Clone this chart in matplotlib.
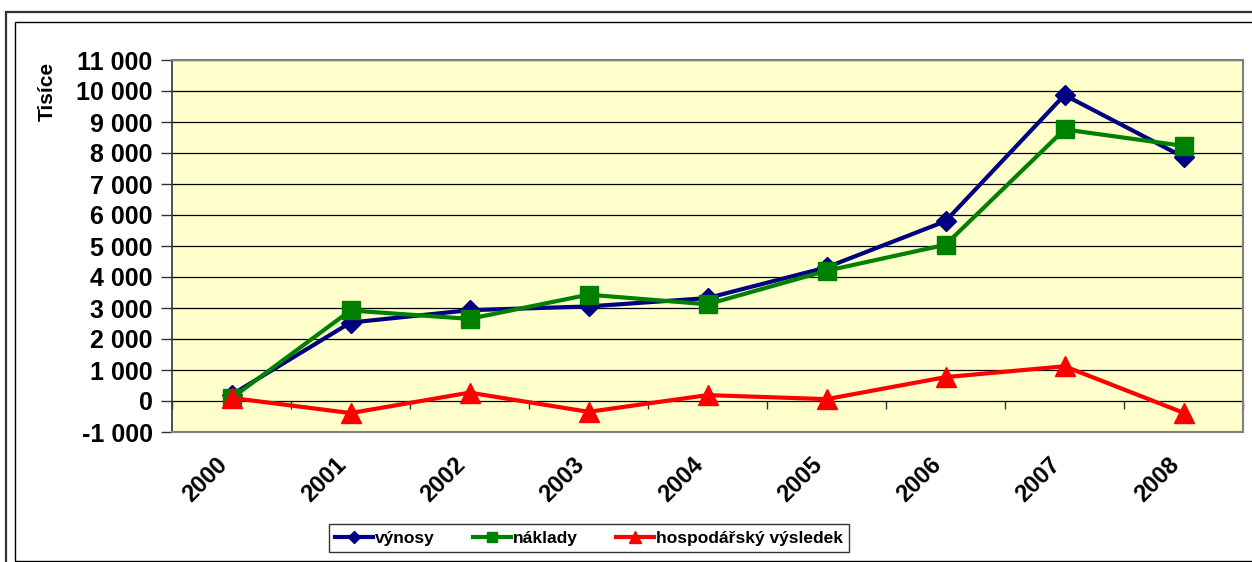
import numpy as np
import matplotlib
matplotlib.use('Agg')
from matplotlib import pyplot as plt
from matplotlib.patches import Rectangle

plt.rcParams['font.family'] = ['Liberation Sans', 'DejaVu Sans']
plt.rcParams['font.weight'] = 'bold'

# data, in thousands CZK
roky = ['2000', '2001', '2002', '2003', '2004', '2005', '2006', '2007', '2008']
vynosy = [200, 2530, 2930, 3050, 3320, 4310, 5800, 9870, 7870]
naklady = [90, 2920, 2650, 3430, 3120, 4200, 5040, 8760, 8230]
hv = [100, -390, 270, -350, 190, 60, 770, 1120, -380]

W, H = 1252, 562
fig = plt.figure(figsize=(W / 100, H / 100), dpi=100)
fig.patch.set_facecolor('white')


def px(x, y):
    return x / W, 1 - y / H


# outer double frame of the chart area
fig.patches.append(Rectangle(px(6, 575), 1300 / W, (575 - 12) / H, transform=fig.transFigure,
                             fill=False, ec='#333333', lw=1.6))
fig.patches.append(Rectangle(px(15, 561), 1300 / W, (561 - 22) / H, transform=fig.transFigure,
                             fill=False, ec='black', lw=1.0))

x0, y0 = px(172, 432)
x1, y1 = px(1243, 60)
ax = fig.add_axes([x0, y0, x1 - x0, y1 - y0])
ax.set_facecolor('#FFFFCC')

x = np.arange(len(roky))
ax.plot(x, vynosy, color='#000080', lw=3, marker='D', ms=10, mec='#000080', label='výnosy', zorder=3)
ax.plot(x, naklady, color='#008000', lw=3, marker='s', ms=13, mec='#008000', label='náklady', zorder=4)
ax.plot(x, hv, color='#FF0000', lw=3, marker='^', ms=14, mec='#FF0000', label='hospodářský výsledek', zorder=5)

ax.set_xlim(-0.5, len(roky) - 0.5)
ax.set_ylim(-1000, 11000)
yt = np.arange(-1000, 11001, 1000)
ax.set_yticks(yt)
ax.set_yticklabels([f"{v:,}".replace(',', ' ') for v in yt], fontsize=18, fontweight='bold')
ax.yaxis.grid(True, color='black', lw=0.9)
ax.set_axisbelow(True)
ax.tick_params(axis='y', direction='out', length=8, width=1, color='#333333', pad=6)

ax.set_xticks(x)
ax.set_xticklabels(roky, rotation=45, ha='right', va='top', fontsize=17, fontweight='bold')
ax.tick_params(axis='x', length=0, pad=15)

for s in ['top', 'right', 'bottom']:
    ax.spines[s].set_color('#808080')
    ax.spines[s].set_linewidth(1.5)
ax.spines['left'].set_color('#333333')
ax.spines['left'].set_linewidth(1.2)

# category axis crossing at zero, ticks between categories
sec = ax.secondary_xaxis(1000 / 12000)
sec.set_xticks(np.arange(-0.5, len(roky), 1))
sec.set_xticklabels([])
sec.tick_params(direction='out', length=6, width=1, color='#333333')
sec.spines['bottom'].set_visible(False)

fig.text(47 / W, 1 - 62 / H, 'Tisíce', rotation=90, ha='center', va='top',
         fontsize=15, fontweight='bold')

leg = fig.legend(loc='center', bbox_to_anchor=px(589, 538), ncol=3, fontsize=12.5,
                 frameon=True, fancybox=False, edgecolor='black', handlelength=2.2,
                 columnspacing=2.2, handletextpad=0.1, borderpad=0.35, markerscale=0.6)
leg.get_frame().set_linewidth(1.0)
for t in leg.get_texts():
    t.set_fontweight('bold')

fig.savefig('out.png', dpi=100, facecolor='white')
